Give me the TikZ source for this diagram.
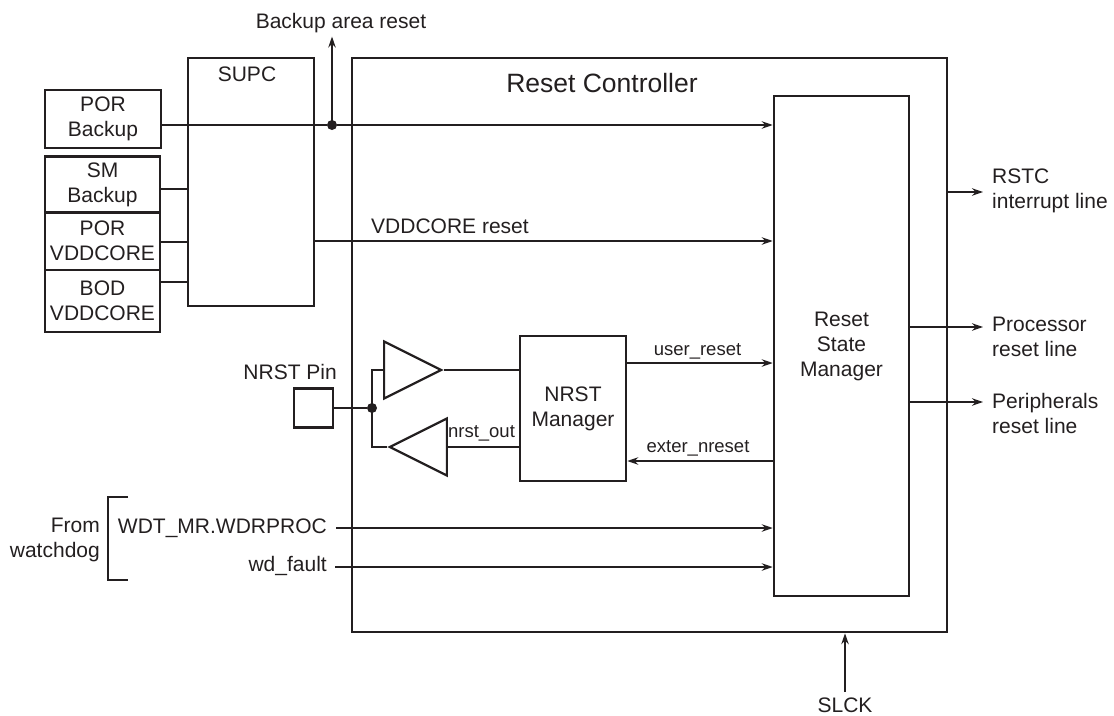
\documentclass[tikz,border=0pt]{standalone}
\usepackage{fontspec}
\setsansfont{Liberation Sans}
\usetikzlibrary{shapes.geometric, arrows.meta, positioning, calc}
\definecolor{ink}{HTML}{231F20}

\begin{document}
\begin{tikzpicture}[
    x=1pt, y=-1pt,
    font=\sffamily\fontsize{21pt}{25pt}\selectfont,
    % heavy bordered blocks
    blk/.style={rectangle, draw=ink, line width=2.6pt, inner sep=0pt, align=center, text=ink},
    wire/.style={draw=ink, line width=1.3pt},
    arrow/.style={wire, -{Stealth[length=11pt, width=7.5pt]}},
    lbl/.style={text=ink, inner sep=1pt, align=center},
    sig/.style={lbl, font=\sffamily\fontsize{18.5pt}{22pt}\selectfont},
    buf/.style={isosceles triangle, isosceles triangle stretches, draw=ink, line width=2.2pt, minimum width=57pt, minimum height=57pt, inner sep=0pt},
    jdot/.style={circle, fill=ink, inner sep=0pt, minimum size=10pt}
]
\useasboundingbox (0,0) rectangle (1114,715);

% =========================================================
% RESET CONTROLLER
% =========================================================
\node[blk, minimum width=595pt, minimum height=574pt] (ctrl) at (649.5,345) {};
\node[lbl, anchor=base, font=\sffamily\fontsize{26.5pt}{30pt}\selectfont] (ctrltitle) at (602,92) {Reset Controller};
\node[blk, minimum width=135pt, minimum height=500pt] (rsm) at (841.5,346) {Reset\\State\\Manager};

% =========================================================
% SUPC AND MONITORS
% =========================================================
\node[blk, minimum width=126pt, minimum height=248pt] (supc) at (251,182) {};
\node[lbl, anchor=base] (supctitle) at (247,81) {SUPC};

\node[blk, minimum width=116pt, minimum height=58pt] (porbk) at (103,119) {POR\\Backup};
\node[blk, minimum width=115pt, minimum height=56pt] (smbk) at (102.5,184.5) {SM\\Backup};
\node[blk, minimum width=115pt, minimum height=58pt] (porcore) at (102.5,241) {POR\\VDDCORE};
\node[blk, minimum width=115pt, minimum height=62pt] (bodcore) at (102.5,301) {BOD\\VDDCORE};

\coordinate (smo) at ([yshift=-4.5pt]smbk.east);
\coordinate (pco) at ([yshift=-1pt]porcore.east);
\coordinate (bco) at ([yshift=19pt]bodcore.east);
\draw[wire] (smo) -- (smo -| supc.west);
\draw[wire] (pco) -- (pco -| supc.west);
\draw[wire] (bco) -- (bco -| supc.west);

% backup line and its branch
\node[jdot] (bkdot) at (332,125) {};
\node[lbl, anchor=base] (bklbl) at (341,28) {Backup area reset};
\draw[wire] (porbk.east |- bkdot) -- (bkdot);
\draw[arrow] (bkdot) -- (bkdot -| rsm.west);
\draw[arrow] (bkdot.center) -- ([yshift=-3pt]bkdot |- bklbl.south);

% VDDCORE reset
\coordinate (vco) at ([yshift=-59pt]supc.east);
\draw[arrow] (vco) -- (vco -| rsm.west);
\node[lbl, anchor=base west] (vcolbl) at (370,233) {VDDCORE reset};

% =========================================================
% NRST PIN AND MANAGER
% =========================================================
\node[blk, minimum size=39pt, line width=2.2pt] (pin) at (313.5,408) {};
\node[lbl, anchor=base east] (pinlbl) at (338,379) {NRST Pin};
\node[blk, minimum width=106pt, minimum height=145pt] (nrstm) at (573,408.5) {NRST\\Manager};

\node[jdot] (pdot) at (372,408) {};
\node[buf, anchor=apex] (bufin) at (444,370) {};
\node[buf, shape border rotate=180, anchor=apex] (bufout) at (387,447) {};

\draw[wire] (pin) -- (pdot);
\draw[wire] (pdot.center) |- (bufin.lower side);
\draw[wire] (pdot.center) |- (bufout.apex);
\draw[wire] (bufin.apex) -- (bufin.apex -| nrstm.west);
\draw[wire] (nrstm.west |- bufout.lower side) -- (bufout.lower side);
\node[sig, anchor=base] (nrstoutlbl) at (481.5,437) {nrst\_out};

\coordinate (uro) at ([yshift=45.5pt]nrstm.east);
\draw[arrow] (uro) -- (uro -| rsm.west);
\node[sig, anchor=base] (urlbl) at (697.5,355) {user\_reset};

\coordinate (xro) at ([yshift=-52.5pt]nrstm.east);
\draw[arrow] (xro -| rsm.west) -- (xro);
\node[sig, anchor=base] (xrlbl) at (698,452) {exter\_nreset};

% =========================================================
% WATCHDOG
% =========================================================
\node[lbl, anchor=east, align=right] (wdog) at (101,539.5) {From\\watchdog};
\draw[ink, line width=2.2pt] (128,497) -| (108,580) -- (128,580);
\node[lbl, anchor=base east] (wdtlbl) at (328,533) {WDT\_MR.WDRPROC};
\node[lbl, anchor=base east] (wdflbl) at (328,571) {wd\_fault};
\coordinate (wdto) at (336,528);
\coordinate (wdfo) at (335,567);
\draw[arrow] (wdto) -- (wdto -| rsm.west);
\draw[arrow] (wdfo) -- (wdfo -| rsm.west);

% =========================================================
% OUTPUTS AND CLOCK
% =========================================================
\coordinate (irq) at (983,192);
\coordinate (cpu) at (983,327);
\coordinate (per) at (983,402);
\draw[arrow] (irq -| ctrl.east) -- (irq);
\draw[arrow] (cpu -| rsm.east) -- (cpu);
\draw[arrow] (per -| rsm.east) -- (per);
\node[lbl, anchor=west, align=left] (irqlbl) at (991,191) {RSTC\\interrupt line};
\node[lbl, anchor=west, align=left] (cpulbl) at (991,337) {Processor\\reset line};
\node[lbl, anchor=west, align=left] (perlbl) at (991,413) {Peripherals\\reset line};

\node[lbl, anchor=base, inner sep=0pt] (slck) at (845,712) {SLCK};
\draw[arrow] ([yshift=5pt]slck.north) -- (slck.north |- ctrl.south);

\end{tikzpicture}
\end{document}
